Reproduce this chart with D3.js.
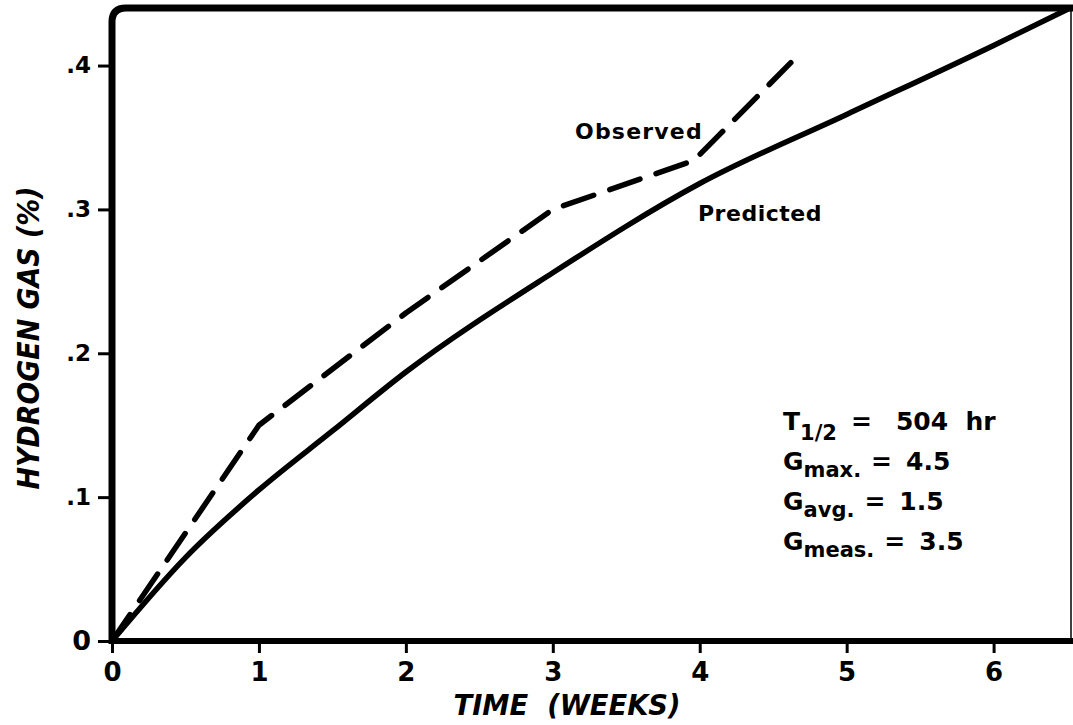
<!DOCTYPE html>
<html>
<head>
<meta charset="utf-8">
<script src="https://cdn.jsdelivr.net/npm/d3@7"></script>
<style>
  body { margin: 0; background: #fff; }
  svg { display: block; }
  text { fill: #000; font-family: "DejaVu Sans", sans-serif; font-weight: bold; }
</style>
</head>
<body>
<svg id="chart"></svg>
<script>
// values
const xTicks = [0, 1, 2, 3, 4, 5, 6];
const yTicks = [0, 0.1, 0.2, 0.3, 0.4];

const predictedWeeks = [0, 0.5, 1, 1.5, 2, 3, 4, 5, 6, 6.52];
const predictedH2 = [0, 0.058, 0.105, 0.146, 0.187, 0.256, 0.318, 0.366, 0.414, 0.44];

const observedWeeks = [0, 1, 2, 3, 3.96, 4.62];
const observedH2 = [0, 0.15, 0.228, 0.30, 0.334, 0.402];

const paramNames = ["T", "G", "G", "G"];
const paramSubs = ["1/2", "max.", "avg.", "meas."];
const paramValues = ["504 hr", "4.5", "1.5", "3.5"];

document.addEventListener('DOMContentLoaded', function() {
  drawChart();
})

function drawChart() {
  const width = 1073;
  const height = 725;

  const svg = d3.select('#chart')
    .attr('width', width)
    .attr('height', height);

  const x = d3.scaleLinear().domain([0, 6.52]).range([112, 1070]);
  const y = d3.scaleLinear().domain([0, 0.44]).range([641, 8]);

  const left = x(0), right = x(6.52), top = y(0.44), bottom = y(0);

  // frame: heavy left/top/bottom, thin right edge
  svg.append('line')
    .attr('x1', right + 1).attr('x2', right + 1)
    .attr('y1', top).attr('y2', bottom)
    .attr('stroke', '#000').attr('stroke-width', 1.5);

  svg.append('path')
    .attr('d', `M${left},${bottom + 3} L${left},${top + 14} Q${left},${top} ${left + 14},${top} L${width},${top}`)
    .attr('fill', 'none')
    .attr('stroke', '#000')
    .attr('stroke-width', 7);

  svg.append('line')
    .attr('x1', left - 3).attr('x2', width)
    .attr('y1', bottom).attr('y2', bottom)
    .attr('stroke', '#000').attr('stroke-width', 6);

  // x axis ticks
  const xAxis = svg.append('g')
    .attr('transform', `translate(0, ${bottom})`)
    .call(d3.axisBottom(x).tickValues(xTicks).tickSize(12).tickPadding(10).tickSizeOuter(0)
      .tickFormat(d3.format('d')));
  xAxis.select('.domain').remove();
  xAxis.selectAll('.tick line').attr('stroke', '#000').attr('stroke-width', 3);
  xAxis.selectAll('.tick text')
    .attr('font-size', 26)
    .attr('font-family', '"DejaVu Sans", sans-serif')
    .attr('font-weight', 'bold')
    .attr('fill', '#000');

  // y axis ticks
  const yAxis = svg.append('g')
    .attr('transform', `translate(${left}, 0)`)
    .call(d3.axisLeft(y).tickValues(yTicks).tickSize(14).tickPadding(7).tickSizeOuter(0)
      .tickFormat(d => d === 0 ? '0' : d3.format('.1f')(d).replace(/^0/, '')));
  yAxis.select('.domain').remove();
  yAxis.selectAll('.tick line').attr('stroke', '#000').attr('stroke-width', 3);
  yAxis.selectAll('.tick text')
    .attr('font-size', d => d === 0 ? 27 : 23)
    .attr('font-family', '"DejaVu Sans", sans-serif')
    .attr('font-weight', 'bold')
    .attr('fill', '#000');

  // axis titles
  svg.append('text')
    .attr('x', 567)
    .attr('y', 715)
    .attr('text-anchor', 'middle')
    .attr('font-family', '"Liberation Sans", Arial, sans-serif')
    .attr('font-style', 'italic')
    .attr('font-size', 29)
    .attr('textLength', 227)
    .attr('lengthAdjust', 'spacingAndGlyphs')
    .attr('xml:space', 'preserve')
    .text('TIME  (WEEKS)');

  svg.append('text')
    .attr('transform', 'translate(39, 338) rotate(-90)')
    .attr('text-anchor', 'middle')
    .attr('font-family', '"Liberation Sans", Arial, sans-serif')
    .attr('font-style', 'italic')
    .attr('font-size', 30)
    .attr('textLength', 303)
    .attr('lengthAdjust', 'spacingAndGlyphs')
    .text('HYDROGEN GAS (%)');

  // curves
  const predicted = predictedWeeks.map((w, i) => ({ w: w, v: predictedH2[i] }));
  const observed = observedWeeks.map((w, i) => ({ w: w, v: observedH2[i] }));

  const predictedLine = d3.line()
    .x(d => x(d.w))
    .y(d => y(d.v))
    .curve(d3.curveMonotoneX);

  const observedLine = d3.line()
    .x(d => x(d.w))
    .y(d => y(d.v));

  svg.append('path')
    .datum(predicted)
    .attr('d', predictedLine)
    .attr('fill', 'none')
    .attr('stroke', '#000')
    .attr('stroke-width', 5.5)
    .attr('stroke-linecap', 'round');

  svg.append('path')
    .datum(observed)
    .attr('d', observedLine)
    .attr('fill', 'none')
    .attr('stroke', '#000')
    .attr('stroke-width', 5.5)
    .attr('stroke-linecap', 'round')
    .attr('stroke-linejoin', 'round')
    .attr('stroke-dasharray', '32,17');

  // curve labels
  svg.append('text')
    .attr('x', 575).attr('y', 139)
    .attr('font-size', 22)
    .attr('letter-spacing', 1.2)
    .text('Observed');

  svg.append('text')
    .attr('x', 698).attr('y', 221)
    .attr('font-size', 22)
    .attr('letter-spacing', 0.5)
    .text('Predicted');

  // parameter block
  const params = svg.append('g').attr('font-size', 25);
  paramNames.forEach(function(name, i) {
    const t = params.append('text')
      .attr('x', 783)
      .attr('y', 430 + i * 40);
    t.append('tspan').text(name);
    t.append('tspan')
      .attr('font-size', 21)
      .attr('dy', i === 0 ? 10 : 7)
      .text(paramSubs[i]);
    t.append('tspan')
      .attr('dx', i === 0 ? 14 : 10)
      .attr('dy', i === 0 ? -10 : -7)
      .text('=');
    t.append('tspan')
      .attr('dx', i === 0 ? 24 : 14)
      .attr('xml:space', 'preserve')
      .text(i === 0 ? paramValues[i].replace(' ', '  ') : paramValues[i]);
  });
}
</script>
</body>
</html>
